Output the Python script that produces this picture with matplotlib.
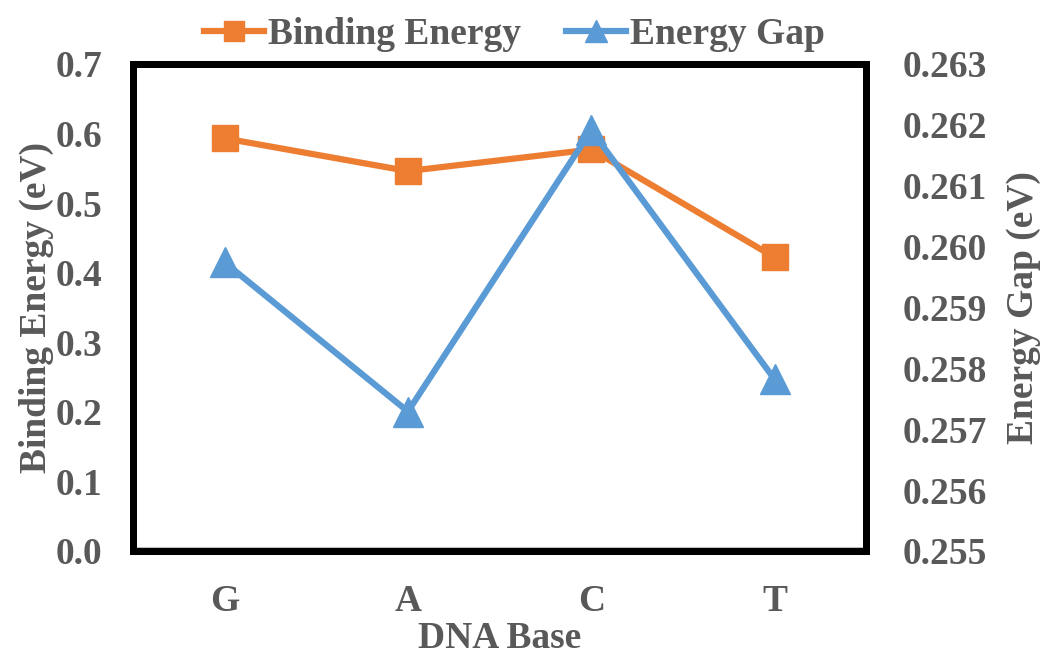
import matplotlib.pyplot as plt

# Data
bases = ['G', 'A', 'C', 'T']
binding_energy = [0.593, 0.546, 0.577, 0.422]
energy_gap = [0.25974, 0.25729, 0.26191, 0.25782]

plt.rcParams['font.family'] = ['Liberation Serif', 'DejaVu Serif']
plt.rcParams['font.weight'] = 'bold'
gray = '#595959'
orange = '#ED7D31'
blue = '#5B9BD5'
fs = 27

fig = plt.figure(figsize=(10.43, 6.59), dpi=100)
ax = fig.add_axes([0.1275, 0.164, 0.703, 0.739])
ax2 = ax.twinx()

x = list(range(len(bases)))
l1, = ax.plot(x, binding_energy, color=orange, lw=4.5, marker='s', ms=19,
              label='Binding Energy', zorder=3)
l2, = ax2.plot(x, energy_gap, color=blue, lw=4.5, marker='^', ms=21,
               label='Energy Gap', zorder=3)

ax.set_xlim(-0.5, 3.5)
ax.set_ylim(0, 0.7)
ax2.set_ylim(0.255, 0.263)
ax.set_yticks([i / 10 for i in range(8)])
ax.set_yticklabels([f'{i / 10:.1f}' for i in range(8)])
ax2.set_yticks([0.255 + i * 0.001 for i in range(9)])
ax2.set_yticklabels([f'{0.255 + i * 0.001:.3f}' for i in range(9)])
ax.set_xticks(x)
ax.set_xticklabels(bases)

for a in (ax, ax2):
    a.tick_params(length=0, labelsize=fs, colors=gray)
    for s in a.spines.values():
        s.set_color('black')
        s.set_linewidth(5)
ax.tick_params(axis='y', pad=22)
ax.tick_params(axis='x', pad=24)
ax2.tick_params(axis='y', pad=26)
ax.axhline(0.004, color='#BFBFBF', lw=1.5, zorder=2)

ax.set_xlabel('DNA Base', fontsize=fs, color=gray, fontweight='bold', labelpad=1)
ax.set_ylabel('Binding Energy (eV)', fontsize=fs, color=gray, fontweight='bold', labelpad=1)
ax2.set_ylabel('Energy Gap (eV)', fontsize=fs, color=gray, fontweight='bold', labelpad=14)

fig.legend(handles=[l1, l2], loc='upper center', bbox_to_anchor=(0.493, 1.025),
           ncol=2, frameon=False, fontsize=fs, labelcolor=gray,
           handlelength=1.6, handletextpad=0.1, columnspacing=1.2,
           markerscale=0.75)

fig.savefig('out.png', dpi=100)
